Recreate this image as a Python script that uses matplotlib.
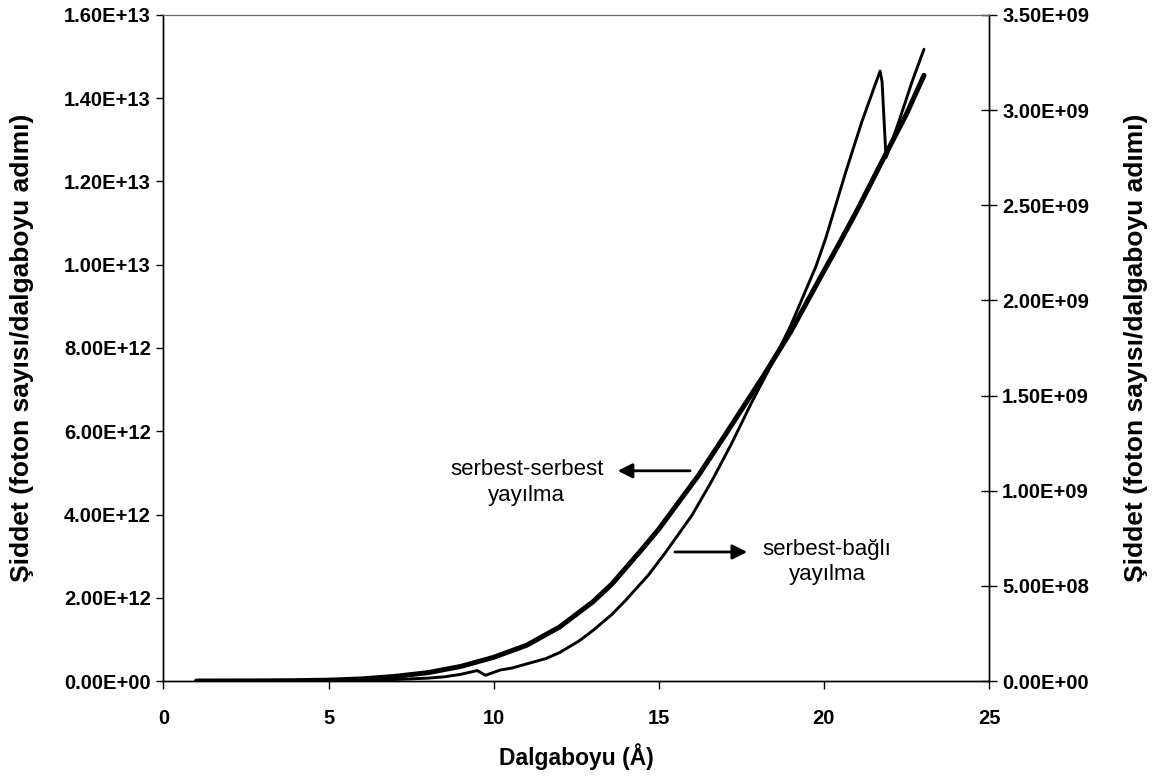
import numpy as np
import matplotlib.pyplot as plt
from matplotlib.ticker import FuncFormatter, MultipleLocator

plt.rcParams['font.family'] = ['Liberation Sans', 'DejaVu Sans']

# serbest-serbest yayılma (sol eksen, foton sayısı/dalgaboyu adımı)
dalga_ff = [1, 2, 3, 4, 5, 6, 7, 8, 9, 10, 11, 12, 13, 13.58, 14.43, 15,
            16.21, 17, 18.2, 19, 20, 20.4, 21, 21.88, 22.5, 23.03]
siddet_ff = [0, 0.001e12, 0.003e12, 0.008e12, 0.02e12, 0.05e12, 0.11e12, 0.20e12,
             0.35e12, 0.57e12, 0.86e12, 1.30e12, 1.90e12, 2.33e12, 3.11e12, 3.65e12,
             4.95e12, 5.9e12, 7.37e12, 8.4e12, 9.85e12, 10.42e12, 11.3e12,
             12.67e12, 13.62e12, 14.55e12]

# serbest-bağlı yayılma (sağ eksen)
dalga_fb = [1, 2, 3, 4, 5, 6, 7, 8, 8.5, 9, 9.5, 9.75, 10.2, 10.55, 11, 11.58, 12,
            12.58, 13, 13.58, 14, 14.7, 15.2, 16, 16.6, 17.21, 17.8, 18.42, 19,
            19.76, 20.06, 20.67, 21.15, 21.45, 21.7, 21.76, 21.88, 22.27, 22.67, 23.03]
siddet_fb = [0, 0, 0.0005e9, 0.001e9, 0.002e9, 0.004e9, 0.008e9, 0.015e9, 0.022e9,
             0.035e9, 0.055e9, 0.03e9, 0.058e9, 0.068e9, 0.09e9, 0.118e9, 0.15e9,
             0.21e9, 0.265e9, 0.35e9, 0.425e9, 0.56e9, 0.675e9, 0.87e9, 1.05e9,
             1.25e9, 1.46e9, 1.666e9, 1.87e9, 2.18e9, 2.33e9, 2.68e9, 2.94e9,
             3.085e9, 3.205e9, 3.15e9, 2.75e9, 2.94e9, 3.15e9, 3.32e9]

fig = plt.figure(figsize=(11.53, 7.8), dpi=100)
ax = fig.add_axes([0.1418, 0.1269, 0.7160, 0.8539])
ax2 = ax.twinx()

ax.plot(dalga_ff, siddet_ff, color='black', lw=3.6, solid_capstyle='round',
        solid_joinstyle='round')
ax2.plot(dalga_fb, siddet_fb, color='black', lw=2.1, solid_capstyle='round',
         solid_joinstyle='round')

ax.set_xlim(0, 25)
ax.set_ylim(0, 1.6e13)
ax2.set_ylim(0, 3.5e9)
ax.xaxis.set_major_locator(MultipleLocator(5))
ax.yaxis.set_major_locator(MultipleLocator(2e12))
ax2.yaxis.set_major_locator(MultipleLocator(5e8))

sci = FuncFormatter(lambda v, pos: f'{v:.2E}')
ax.yaxis.set_major_formatter(sci)
ax2.yaxis.set_major_formatter(sci)

for a in (ax, ax2):
    for s in a.spines.values():
        s.set_linewidth(1.0)
    a.spines['top'].set_color('#666666')
    a.spines['top'].set_linewidth(0.8)

ax.tick_params(axis='x', direction='out', length=6, width=1, labelsize=14.5, pad=14)
ax.tick_params(axis='y', direction='out', length=5, width=1, labelsize=14.5, pad=4)
ax2.tick_params(axis='y', direction='inout', length=11, width=1, labelsize=14.5, pad=4)
for lab in ax.get_xticklabels() + ax.get_yticklabels() + ax2.get_yticklabels():
    lab.set_fontweight('bold')

ax.set_xlabel('Dalgaboyu (Å)', fontsize=16.5, fontweight='bold', va='center')
ax.xaxis.set_label_coords(0.5, -0.114)
ax.set_ylabel('Şiddet (foton sayısı/dalgaboyu adımı)', fontsize=19, fontweight='bold',
              va='center')
ax.yaxis.set_label_coords(-0.172, 0.5)
ax2.set_ylabel('Şiddet (foton sayısı/dalgaboyu adımı)', fontsize=19, fontweight='bold',
               rotation=90, va='center')
ax2.yaxis.set_label_coords(1.178, 0.5)

# etiketler ve oklar
okstil = dict(arrowstyle='-|>', color='black', lw=2, mutation_scale=22)
ax.annotate('', xy=(13.67, 5.05e12), xytext=(16.03, 5.05e12), arrowprops=okstil)
ax.annotate('', xy=(17.76, 3.10e12), xytext=(15.4, 3.10e12), arrowprops=okstil)
ax.text(11.0, 4.76e12, 'serbest-serbest\nyayılma', ha='center', va='center',
        fontsize=16, linespacing=1.3)
ax.text(20.1, 2.86e12, 'serbest-bağlı\nyayılma', ha='center', va='center',
        fontsize=16, linespacing=1.3)

fig.savefig('out.png', dpi=100)
